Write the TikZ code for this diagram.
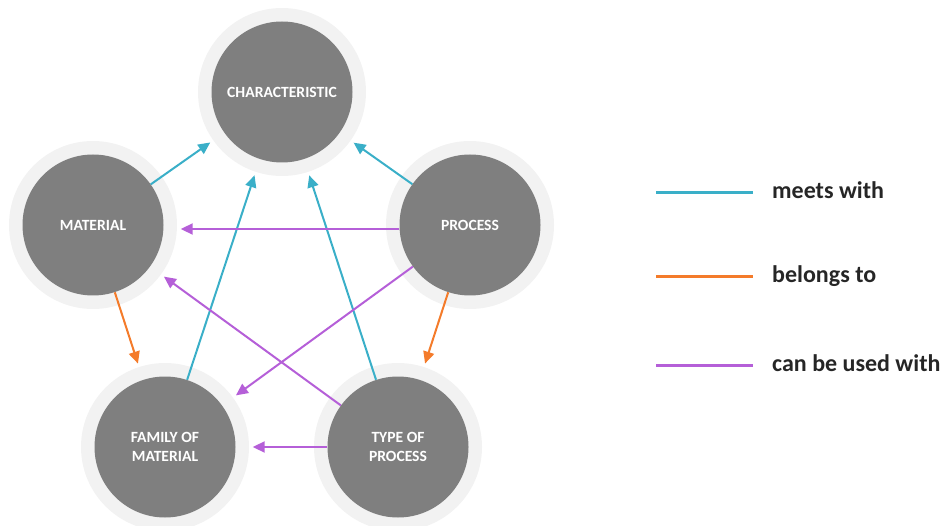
\documentclass[tikz,border=0pt]{standalone}
\usepackage{fontspec}
\setmainfont{Carlito}
\usetikzlibrary{arrows.meta}
\definecolor{ringc}{HTML}{F2F2F2}
\definecolor{corec}{HTML}{7F7F7F}
\definecolor{cyanc}{HTML}{3AAFC8}
\definecolor{orangec}{HTML}{F47B2A}
\definecolor{purplec}{HTML}{B55FD8}
\definecolor{textc}{HTML}{262626}
\begin{document}
\begin{tikzpicture}[x=1pt,y=-1pt,
  ring/.style={fill=ringc},
  hub/.style={circle, fill=corec, minimum size=141pt, inner sep=0pt, text=white,
    font=\bfseries\fontsize{15.6}{19.5}\selectfont, align=center},
  link/.style={line width=2pt, -{Triangle[length=12pt,width=11pt]}, shorten >=17pt},
  meets/.style={link, color=cyanc},
  belongs/.style={link, color=orangec},
  usedwith/.style={link, color=purplec},
  legline/.style={line width=3pt},
  legtext/.style={anchor=base west, inner sep=0pt, text=textc, font=\bfseries\fontsize{24}{28}\selectfont}
]
\useasboundingbox (0,0) rectangle (947,526);
% outer rings
\foreach \p in {(282,92),(93,225),(470,225),(165,447),(398,447)}
  \fill[ring] \p circle[radius=84pt];
% hubs
\node[hub] (C) at (282,92) {CHARACTERISTIC};
\node[hub] (M) at (93,225) {MATERIAL};
\node[hub] (P) at (470,225) {PROCESS};
\node[hub] (F) at (165,447) {FAMILY OF\\MATERIAL};
\node[hub] (T) at (398,447) {TYPE OF\\PROCESS};
% connectors
\draw[meets] (M) -- (C);
\draw[meets] (P) -- (C);
\draw[meets] (F) -- (C);
\draw[meets] (T) -- (C);
\draw[belongs] (M) -- (F);
\draw[belongs] (P) -- (T);
\draw[usedwith] ([yshift=-4pt]P.west) -- ([yshift=-4pt]M.east);
\draw[usedwith] (P) -- (F);
\draw[usedwith] (T) -- (M);
\draw[usedwith] (T) -- (F);
% legend
\coordinate (l1a) at (656,193); \coordinate (l1b) at (753,193);
\coordinate (l2a) at (656,277); \coordinate (l2b) at (753,277);
\coordinate (l3a) at (656,365); \coordinate (l3b) at (753,365);
\draw[legline, cyanc] (l1a) -- (l1b);
\draw[legline, orangec] (l2a) -- (l2b);
\draw[legline, purplec] (l3a) -- (l3b);
\node[legtext] (t1) at (772,199) {meets with};
\node[legtext] (t2) at (772,283) {belongs to};
\node[legtext] (t3) at (772,371) {can be used with};
\end{tikzpicture}
\end{document}
